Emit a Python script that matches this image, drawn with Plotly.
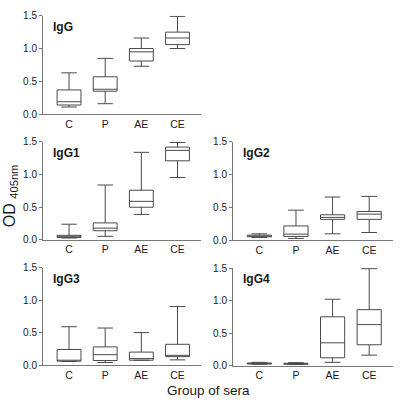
import plotly.graph_objects as go

groups = ["C", "P", "AE", "CE"]

# five-number summaries per panel: lower whisker, Q1, median, Q3, upper whisker
igg_low = [0.11, 0.16, 0.73, 1.00]
igg_q1 = [0.14, 0.35, 0.81, 1.06]
igg_med = [0.19, 0.38, 0.95, 1.16]
igg_q3 = [0.37, 0.57, 1.00, 1.25]
igg_high = [0.63, 0.85, 1.16, 1.49]

igg1_low = [0.03, 0.055, 0.39, 0.955]
igg1_q1 = [0.035, 0.14, 0.50, 1.21]
igg1_med = [0.055, 0.18, 0.59, 1.37]
igg1_q3 = [0.07, 0.26, 0.76, 1.42]
igg1_high = [0.24, 0.84, 1.34, 1.49]

igg2_low = [0.045, 0.03, 0.10, 0.12]
igg2_q1 = [0.055, 0.06, 0.32, 0.32]
igg2_med = [0.065, 0.095, 0.35, 0.40]
igg2_q3 = [0.08, 0.22, 0.39, 0.44]
igg2_high = [0.10, 0.46, 0.66, 0.67]

igg3_low = [0.055, 0.04, 0.075, 0.08]
igg3_q1 = [0.06, 0.07, 0.075, 0.13]
igg3_med = [0.075, 0.16, 0.10, 0.15]
igg3_q3 = [0.24, 0.28, 0.20, 0.32]
igg3_high = [0.59, 0.57, 0.50, 0.90]

igg4_low = [0.02, 0.015, 0.05, 0.16]
igg4_q1 = [0.025, 0.02, 0.12, 0.32]
igg4_med = [0.03, 0.03, 0.35, 0.63]
igg4_q3 = [0.04, 0.035, 0.75, 0.86]
igg4_high = [0.05, 0.045, 1.02, 1.49]

panels = [
    ("IgG", igg_low, igg_q1, igg_med, igg_q3, igg_high),
    ("IgG1", igg1_low, igg1_q1, igg1_med, igg1_q3, igg1_high),
    ("IgG2", igg2_low, igg2_q1, igg2_med, igg2_q3, igg2_high),
    ("IgG3", igg3_low, igg3_q1, igg3_med, igg3_q3, igg3_high),
    ("IgG4", igg4_low, igg4_q1, igg4_med, igg4_q3, igg4_high),
]

W, H = 400, 407
# pixel layout: (x_left, x_right, y_top(1.5), y_bottom(0))
boxes_px = [
    (43, 201, 10, 111.5),
    (43, 201, 140, 241),
    (233, 393, 140, 241.5),
    (43, 201, 269.5, 370),
    (233, 393, 270, 370.5),
]

FONT = "Liberation Sans, Arial, sans-serif"
LINE = "#4a4a4a"

fig = go.Figure()
layout = dict(
    width=W, height=H, margin=dict(l=0, r=0, t=0, b=0),
    paper_bgcolor="white", plot_bgcolor="white", showlegend=False,
    font=dict(family=FONT, size=10, color="#1a1a1a"),
)
annotations = []
for i, ((name, lo, q1, med, q3, hi), (xl, xr, yt, yb)) in enumerate(zip(panels, boxes_px)):
    n = i + 1
    xa = "x" if n == 1 else f"x{n}"
    ya = "y" if n == 1 else f"y{n}"
    fig.add_trace(go.Box(
        x=groups, q1=q1, median=med, q3=q3, lowerfence=lo, upperfence=hi,
        xaxis=xa, yaxis=ya, width=0.66, whiskerwidth=0.65,
        fillcolor="rgba(255,255,255,0)", line=dict(color=LINE, width=1),
        boxpoints=False, hoverinfo="skip",
    ))
    xkey = "xaxis" if n == 1 else f"xaxis{n}"
    ykey = "yaxis" if n == 1 else f"yaxis{n}"
    layout[xkey] = dict(
        domain=[xl / W, xr / W], anchor=ya, range=[-0.72, 3.65],
        showline=True, linecolor="#777", linewidth=1, ticks="",
        showgrid=False, zeroline=False, tickfont=dict(size=10.5, color="#1a1a1a"),
        categoryorder="array", categoryarray=groups, fixedrange=True,
    )
    layout[ykey] = dict(
        domain=[1 - yb / H, 1 - yt / H], anchor=xa, range=[0, 1.5],
        tickvals=[0, 0.5, 1.0, 1.5], tickformat=".1f",
        showline=True, linecolor="#777", linewidth=1, ticks="outside",
        ticklen=3, tickcolor="#777", showgrid=False, zeroline=False,
        tickfont=dict(size=10, color="#1a1a1a"), fixedrange=True,
    )
    annotations.append(dict(
        text=f"<b>{name}</b>", xref="paper", yref="paper",
        x=(xl + 8) / W, y=1 - (yt + 11.5) / H, xanchor="left", yanchor="middle",
        showarrow=False, font=dict(size=12, color="#1a1a1a"),
    ))

annotations.append(dict(
    text="OD <sub>405nm</sub>", xref="paper", yref="paper",
    x=10 / W, y=1 - 196 / H, textangle=-90, showarrow=False,
    xanchor="center", yanchor="middle", font=dict(size=16, color="#1a1a1a"),
))
annotations.append(dict(
    text="Group of sera", xref="paper", yref="paper",
    x=208 / W, y=1 - 396 / H, showarrow=False,
    xanchor="center", yanchor="middle", font=dict(size=13.5, color="#1a1a1a"),
))
layout["annotations"] = annotations
fig.update_layout(**layout)
fig.write_html(
    "out.html",
    config={"displayModeBar": False},
    post_script="document.body.style.margin='0';document.body.style.overflow='hidden';",
)
